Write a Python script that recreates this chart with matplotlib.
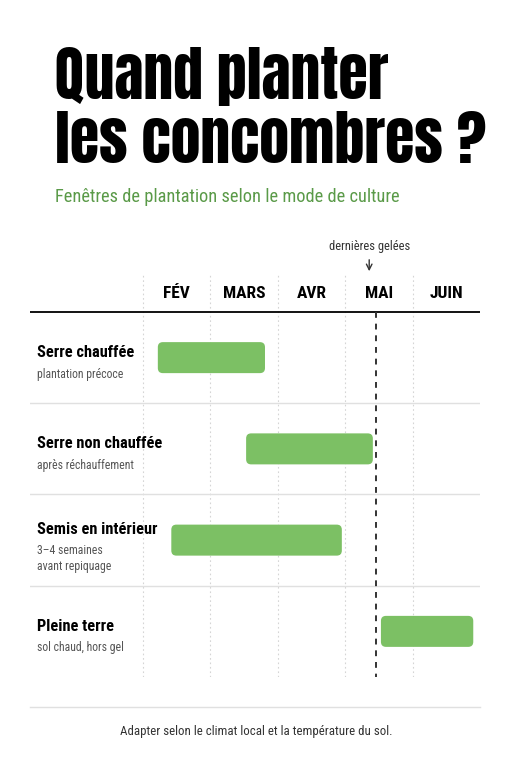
import matplotlib
matplotlib.use('Agg')
import matplotlib.pyplot as plt
from matplotlib import font_manager
from matplotlib.patches import FancyBboxPatch

# données
mois = ['FÉV', 'MARS', 'AVR', 'MAI', 'JUIN']
modes = ['Serre chauffée', 'Serre non chauffée', 'Semis en intérieur', 'Pleine terre']
notes = ['plantation précoce', 'après réchauffement', '3–4 semaines\navant repiquage',
         'sol chaud, hors gel']
debut = [0.22, 1.53, 0.42, 3.53]   # en mois depuis début février
fin = [1.81, 3.41, 2.95, 4.90]
gelees = 3.46

noms = {f.name for f in font_manager.fontManager.ttflist}


def choisir(liste, defaut='DejaVu Sans'):
    for c in liste:
        if c in noms:
            return c
    return defaut


cond = choisir(['Roboto Condensed', 'Liberation Sans Narrow'])
titre_font = choisir(['Anton', 'Oswald', 'League Gothic', 'Bebas Neue', 'Fjalla One'], cond)
plt.rcParams['font.family'] = [cond, 'DejaVu Sans']

vert = '#7cc064'
vert_fonce = '#5a9a48'
gris = '#555555'
fonce = '#333333'

fig = plt.figure(figsize=(5.11, 7.68), dpi=100)
ax = fig.add_axes([30 / 511, 1 - 677 / 768, 450 / 511, 404 / 768])

colw = 67.4    # px par mois
rowh = 91.25   # px par ligne
x0 = -113 / colw
ax.set_xlim(x0, 5)
ax.set_ylim(4, -39 / rowh)
ax.axis('off')

# grille verticale pointillée
for m in range(5):
    ax.axvline(m, color='#d5d5d5', lw=0.8, ls=(0, (1.5, 2.5)), zorder=0)

# en-tête des mois
for i, m in enumerate(mois):
    ax.text(i + 0.5, -18 / rowh, m, ha='center', va='center', fontsize=12.5, fontweight='bold')
ax.axhline(0, color='black', lw=1.3)

for k in range(1, 4):
    ax.axhline(k, color='#e0e0e0', lw=1)

# barres + étiquettes
for i in range(len(modes)):
    h = 31 / rowh
    p = FancyBboxPatch((debut[i], i + 0.5 - h / 2), fin[i] - debut[i], h,
                       boxstyle='round,pad=0,rounding_size=0.075',
                       mutation_aspect=colw / rowh,
                       fc=vert, ec='none', zorder=3)
    ax.add_patch(p)
    nl = notes[i].count('\n')
    dy = -6 * nl / rowh
    ax.text(x0 + 7 / colw, i + 0.5 - 5 / rowh + dy, modes[i], ha='left', va='center',
            fontsize=11.8, fontweight='bold')
    ax.text(x0 + 7 / colw, i + 0.5 + 10 / rowh + dy, notes[i], ha='left', va='top',
            fontsize=8.5, color=gris, linespacing=1.3)

# dernières gelées
ax.plot([gelees, gelees], [0, 4], color=fonce, lw=1.4, ls=(0, (3, 3)), zorder=4)
xg = gelees - 7 / colw
ax.annotate('', xy=(xg, -38 / rowh), xytext=(xg, -55 / rowh),
            arrowprops=dict(arrowstyle='->', color=fonce, lw=1), annotation_clip=False)
ax.text(xg, -65 / rowh, 'dernières gelées', ha='center', va='center', fontsize=9,
        color=fonce, clip_on=False)

# titre : taille ajustée à la largeur de la référence
t1 = fig.text(55 / 511, 1 - 99 / 768, 'Quand planter', fontsize=40, fontweight='bold',
              family=[titre_font, 'DejaVu Sans'], ha='left', va='baseline')
t2 = fig.text(55 / 511, 1 - 163 / 768, 'les concombres ?', fontsize=40, fontweight='bold',
              family=[titre_font, 'DejaVu Sans'], ha='left', va='baseline')
r = fig.canvas.get_renderer()
w = t1.get_window_extent(r).width
fs = 40 * 333 / w
t1.set_fontsize(fs)
t2.set_fontsize(fs)

fig.text(55 / 511, 1 - 197 / 768, 'Fenêtres de plantation selon le mode de culture',
         fontsize=13.2, fontweight='normal', color=vert_fonce, ha='left', va='center')

# pied
fig.add_artist(plt.Line2D([30 / 511, 480 / 511], [1 - 707 / 768] * 2, color='#e0e0e0', lw=1))
fig.text(256 / 511, 1 - 732 / 768, 'Adapter selon le climat local et la température du sol.',
         fontsize=9.3, color=fonce, ha='center', va='center')

fig.savefig('out.png', dpi=100, facecolor='white')
